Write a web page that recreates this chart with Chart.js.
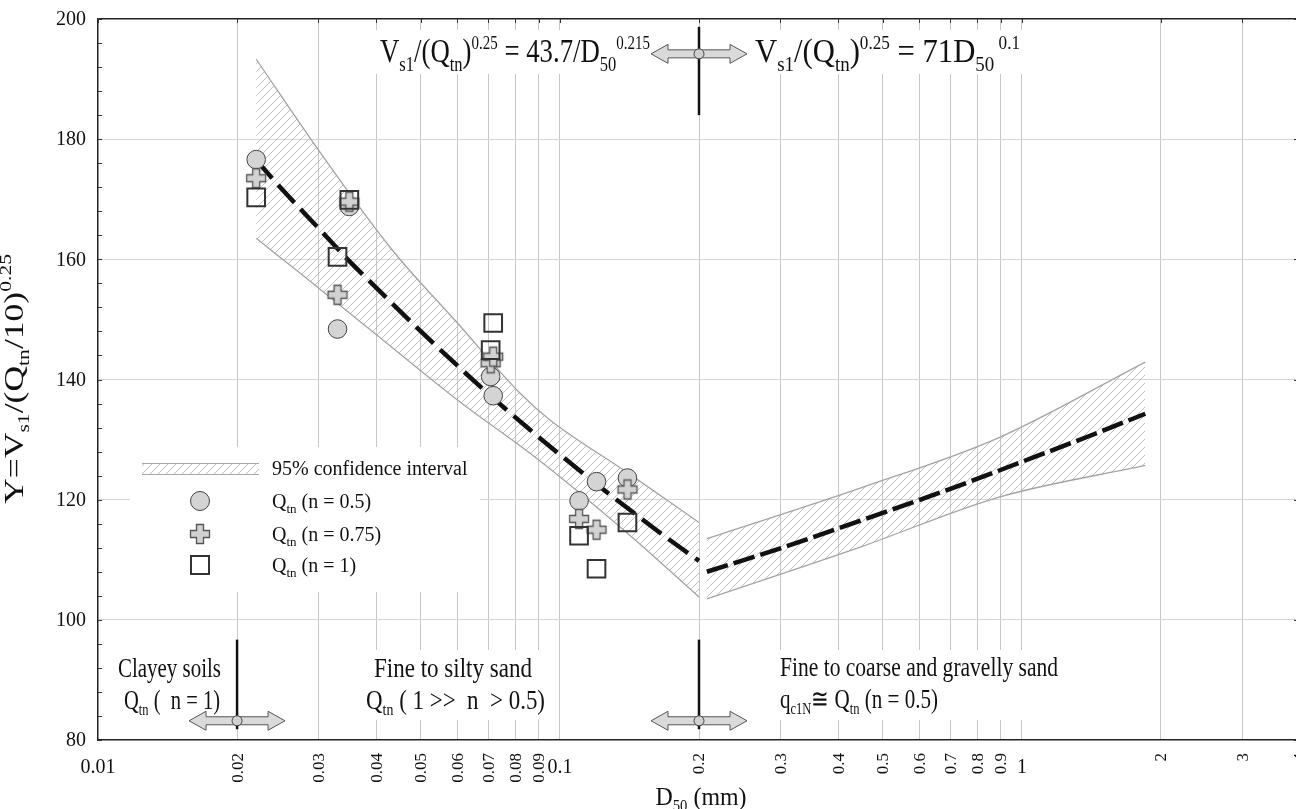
<!DOCTYPE html>
<html><head><meta charset="utf-8">
<script src="https://cdn.jsdelivr.net/npm/chart.js@4.4.0/dist/chart.umd.min.js"></script>
<style>html,body{margin:0;padding:0;background:#fff;overflow:hidden;} canvas{display:block;}</style>
</head><body>
<canvas id="c" width="1320" height="809" style="width:1320px;height:809px"></canvas>
<script>
// ---------------- data ----------------
const D50 = [0.022, 0.033, 0.035, 0.0708, 0.0717, 0.11, 0.12, 0.14];
const Y_n050 = [176.6, 148.4, 168.8, 140.5, 137.3, 119.8, 123.0, 123.6];
const Y_n075 = [173.5, 154.1, 169.6, 142.7, 143.8, 116.8, 115.0, 121.7];
const Y_n100 = [170.3, 160.4, 169.9, 144.9, 149.4, 114.0, 108.5, 116.2];

const fitLeftD = [0.022, 0.025, 0.03, 0.035, 0.04, 0.05, 0.06, 0.07, 0.085, 0.1, 0.12, 0.14, 0.17, 0.2];
const fitLeftY = [176.5, 171.7, 165.2, 159.7, 155.3, 148.0, 142.3, 137.6, 132.0, 127.5, 122.6, 118.6, 113.7, 109.8];
const fitRightD = [0.208, 0.3, 0.5, 0.7, 1.0, 1.4, 1.85];
const fitRightY = [108.0, 111.9, 117.8, 121.8, 126.3, 130.6, 134.3];

const ciLeftUpperD = [0.022, 0.03, 0.0433, 0.06, 0.082, 0.095, 0.14, 0.2];
const ciLeftUpperY = [193.3, 178.2, 161.6, 149.4, 137.7, 133.3, 124.5, 116.2];
const ciLeftLowerD = [0.022, 0.0274, 0.04, 0.06, 0.09, 0.14, 0.2];
const ciLeftLowerY = [163.5, 157.7, 147.5, 136.6, 126.6, 114.4, 103.8];
const ciRightUpperD = [0.208, 0.45, 0.89, 1.85];
const ciRightUpperY = [113.5, 122.0, 130.3, 142.9];
const ciRightLowerD = [0.208, 0.45, 0.89, 1.85];
const ciRightLowerY = [103.5, 112.2, 120.4, 125.7];

const xTickValues = [0.01,0.02,0.03,0.04,0.05,0.06,0.07,0.08,0.09,0.1,0.2,0.3,0.4,0.5,0.6,0.7,0.8,0.9,1,2,3,4];
const xTickLabels = ['0.01','0.02','0.03','0.04','0.05','0.06','0.07','0.08','0.09','0.1','0.2','0.3','0.4','0.5','0.6','0.7','0.8','0.9','1','2','3','4'];
const xTickHorizontal = ['0.01','0.1','1'];
const yTickValues = [80,100,120,140,160,180,200];
const yTickLabels = ['80','100','120','140','160','180','200'];
const yMinorStep = 4;

// ---------------- helpers ----------------
const SERIF = '"Liberation Serif", "Times New Roman", serif';
const pts = (xs, ys) => xs.map((x, i) => ({x, y: ys[i]}));
const AREA = {left: 98, top: 19, right: 1300, bottom: 740};

const canvas = document.getElementById('c');
const ctx0 = canvas.getContext('2d');

function makeHatch() {
  const s = 8;
  const t = document.createElement('canvas');
  t.width = s; t.height = s;
  const g = t.getContext('2d');
  g.strokeStyle = '#b9b9b9';
  g.lineWidth = 0.9;
  g.beginPath();
  g.moveTo(-1, s + 1); g.lineTo(s + 1, -1);
  g.moveTo(-1, 1); g.lineTo(1, -1);
  g.moveTo(s - 1, s + 1); g.lineTo(s + 1, s - 1);
  g.stroke();
  return ctx0.createPattern(t, 'repeat');
}
const hatch = makeHatch();

function crossPath(g, cx, cy, h, a) {
  g.beginPath();
  g.moveTo(cx - a, cy - h); g.lineTo(cx + a, cy - h); g.lineTo(cx + a, cy - a);
  g.lineTo(cx + h, cy - a); g.lineTo(cx + h, cy + a); g.lineTo(cx + a, cy + a);
  g.lineTo(cx + a, cy + h); g.lineTo(cx - a, cy + h); g.lineTo(cx - a, cy + a);
  g.lineTo(cx - h, cy + a); g.lineTo(cx - h, cy - a); g.lineTo(cx - a, cy - a);
  g.closePath();
}
function makeCross() {
  const s = 24;
  const c = document.createElement('canvas');
  c.width = s; c.height = s;
  const g = c.getContext('2d');
  crossPath(g, s / 2, s / 2, 9.5, 3.5);
  g.fillStyle = '#d2d2d2'; g.fill();
  g.lineWidth = 1.3; g.strokeStyle = '#555'; g.stroke();
  return c;
}
const crossImg = makeCross();

function fontFor(s, base) {
  let sz = base;
  if (s.k === 'sub') sz = s.sz || base * 0.62;
  if (s.k === 'sup') sz = s.sz || base * 0.58;
  return sz + 'px ' + SERIF;
}
function richWidth(ctx, segs, base) {
  let w = 0;
  for (const s of segs) { ctx.font = fontFor(s, base); w += ctx.measureText(s.t).width; }
  return w;
}
function drawRich(ctx, segs, x, y, base, opts) {
  opts = opts || {};
  const nat = richWidth(ctx, segs, base);
  const sx = opts.width ? opts.width / nat : 1;
  const total = opts.width || nat;
  let x0 = x;
  if (opts.align === 'center') x0 = x - total / 2;
  ctx.save();
  ctx.translate(x0, y);
  ctx.scale(sx, 1);
  ctx.textAlign = 'left';
  ctx.textBaseline = 'alphabetic';
  ctx.fillStyle = opts.color || '#111';
  let cx = 0;
  for (const s of segs) {
    ctx.font = fontFor(s, base);
    const dy = s.k === 'sub' ? (s.dy != null ? s.dy : base * 0.27) : s.k === 'sup' ? (s.dy != null ? s.dy : -base * 0.4) : 0;
    ctx.fillText(s.t, cx, dy);
    cx += ctx.measureText(s.t).width;
  }
  ctx.restore();
}
function dblArrow(ctx, cx, cy) {
  const L = 48, hl = 17, hh = 9.5, sh = 4;
  ctx.beginPath();
  ctx.moveTo(cx - L, cy);
  ctx.lineTo(cx - L + hl, cy - hh); ctx.lineTo(cx - L + hl, cy - sh);
  ctx.lineTo(cx + L - hl, cy - sh); ctx.lineTo(cx + L - hl, cy - hh);
  ctx.lineTo(cx + L, cy);
  ctx.lineTo(cx + L - hl, cy + hh); ctx.lineTo(cx + L - hl, cy + sh);
  ctx.lineTo(cx - L + hl, cy + sh); ctx.lineTo(cx - L + hl, cy + hh);
  ctx.closePath();
  ctx.fillStyle = '#dadada'; ctx.fill();
  ctx.lineWidth = 1; ctx.strokeStyle = '#555'; ctx.stroke();
}

// annotation texts
const eqLeft = [{t:'V'},{t:'s1',k:'sub',sz:21,dy:9},{t:'/(Q'},{t:'tn',k:'sub',sz:21,dy:9},{t:')'},{t:'0.25',k:'sup',sz:19,dy:-13},{t:' = 43.7/D'},{t:'50',k:'sub',sz:21,dy:9},{t:'0.215',k:'sup',sz:19,dy:-13}];
const eqRight = [{t:'V'},{t:'s1',k:'sub',sz:21,dy:9},{t:'/(Q'},{t:'tn',k:'sub',sz:21,dy:9},{t:')'},{t:'0.25',k:'sup',sz:19,dy:-13},{t:' = 71D'},{t:'50',k:'sub',sz:21,dy:9},{t:' 0.1',k:'sup',sz:19,dy:-13}];

const deco = {
  id: 'deco',
  beforeDatasetsDraw(chart) {
    const c = chart.ctx, a = chart.chartArea;
    const xs = chart.scales.x, ys = chart.scales.y;
    c.save();
    c.fillStyle = '#fff';
    c.fillRect(130, 447, 350, 145);
    c.fillRect(372, 30, 282, 44);
    c.fillRect(750, 30, 282, 44);
    c.fillRect(112, 650, 118, 68);
    c.fillRect(364, 650, 186, 70);
    c.fillRect(774, 650, 290, 70);
    c.strokeStyle = '#333'; c.lineWidth = 1;
    c.beginPath();
    for (let v = 80; v <= 200; v += yMinorStep) {
      const y = Math.round(ys.getPixelForValue(v)) + 0.5;
      c.moveTo(a.left, y); c.lineTo(a.left + 4, y);
    }
    for (const v of yTickValues) {
      const y = Math.round(ys.getPixelForValue(v)) + 0.5;
      c.moveTo(a.right - 6, y); c.lineTo(a.right, y);
    }
    for (const v of xTickValues) {
      const x = Math.round(xs.getPixelForValue(v)) + 0.5;
      c.moveTo(x, a.top); c.lineTo(x, a.top + 4);
    }
    c.stroke();
    c.restore();
  },
  afterDatasetsDraw(chart) {
    const c = chart.ctx;
    const xs = chart.scales.x, ys = chart.scales.y;
    c.save();
    const marks = [
      {x: 0.2, y0: 198.7, y1: 184.0, ya: 194.2},
      {x: 0.02, y0: 96.7, y1: 81.8, ya: 83.2},
      {x: 0.2, y0: 96.7, y1: 81.8, ya: 83.2}
    ];
    for (const m of marks) {
      const px = xs.getPixelForValue(m.x);
      const pa = ys.getPixelForValue(m.ya);
      dblArrow(c, px, pa);
      c.strokeStyle = '#111'; c.lineWidth = 2.5;
      c.beginPath();
      c.moveTo(px, ys.getPixelForValue(m.y0)); c.lineTo(px, ys.getPixelForValue(m.y1));
      c.stroke();
      c.beginPath(); c.arc(px, pa, 5, 0, Math.PI * 2);
      c.fillStyle = '#d0d0d0'; c.fill();
      c.lineWidth = 1; c.strokeStyle = '#444'; c.stroke();
    }
    c.restore();
  },
  afterDraw(chart) {
    const c = chart.ctx, a = chart.chartArea;
    const xs = chart.scales.x, ys = chart.scales.y;
    c.save();
    c.fillStyle = '#111';
    c.font = '20px ' + SERIF;
    c.textAlign = 'right'; c.textBaseline = 'middle';
    yTickValues.forEach((v, i) => c.fillText(yTickLabels[i], a.left - 12, ys.getPixelForValue(v) + 1));
    xTickValues.forEach((v, i) => {
      const lab = xTickLabels[i];
      const px = xs.getPixelForValue(v);
      if (xTickHorizontal.includes(lab)) {
        c.font = '20px ' + SERIF;
        c.textAlign = 'center'; c.textBaseline = 'middle';
        c.fillText(lab, px, a.bottom + 28);
      } else {
        c.save();
        c.font = '17px ' + SERIF;
        c.translate(px + 1, a.bottom + 13);
        c.rotate(-Math.PI / 2);
        c.textAlign = 'right'; c.textBaseline = 'middle';
        c.fillText(lab, 0, 0);
        c.restore();
      }
    });
    drawRich(c, [{t:'D'},{t:'50',k:'sub',sz:16,dy:6},{t:' (mm)'}], 701, 805, 26, {align:'center', width: 91});
    c.save();
    c.translate(23, 379);
    c.rotate(-Math.PI / 2);
    drawRich(c, [{t:'Y=V'},{t:'s1',k:'sub',sz:17,dy:6},{t:'/(Q'},{t:'tn',k:'sub',sz:17,dy:6},{t:'/10)'},{t:'0.25',k:'sup',sz:17,dy:-12}], 0, 0, 28, {align:'center', width: 250});
    c.restore();
    drawRich(c, eqLeft, 380, 62, 34, {width: 270});
    drawRich(c, eqRight, 755, 62, 34, {width: 265});
    drawRich(c, [{t:'Clayey soils'}], 118, 677, 28, {width: 103});
    drawRich(c, [{t:'Q'},{t:'tn',k:'sub',sz:17,dy:6},{t:' (  n = 1)'}], 124, 709, 28, {width: 96});
    drawRich(c, [{t:'Fine to silty sand'}], 374, 677, 28, {width: 158});
    drawRich(c, [{t:'Q'},{t:'tn',k:'sub',sz:17,dy:6},{t:' ( 1 >>  n  > 0.5)'}], 366, 709, 28, {width: 179});
    drawRich(c, [{t:'Fine to coarse and gravelly sand'}], 780, 676, 27, {width: 278});
    drawRich(c, [{t:'q'},{t:'c1N',k:'sub',sz:16,dy:6},{t:'\u2245 Q'},{t:'tn',k:'sub',sz:16,dy:6},{t:' (n = 0.5)'}], 780, 708, 27, {width: 158});
    c.fillStyle = hatch;
    c.fillRect(142, 463, 117, 12);
    c.strokeStyle = '#a8a8a8'; c.lineWidth = 1;
    c.beginPath(); c.moveTo(142, 463.5); c.lineTo(259, 463.5); c.moveTo(142, 474.5); c.lineTo(259, 474.5); c.stroke();
    c.beginPath(); c.arc(200, 501, 9.5, 0, Math.PI * 2);
    c.fillStyle = '#d4d4d4'; c.fill(); c.strokeStyle = '#444'; c.lineWidth = 1; c.stroke();
    c.drawImage(crossImg, 200 - crossImg.width / 2, 534 - crossImg.height / 2);
    c.strokeStyle = '#333'; c.lineWidth = 2;
    c.strokeRect(191, 556, 18, 18);
    drawRich(c, [{t:'95% confidence interval'}], 272, 475, 20);
    drawRich(c, [{t:'Q'},{t:'tn',k:'sub',sz:13,dy:5},{t:' (n = 0.5)'}], 272, 508, 20);
    drawRich(c, [{t:'Q'},{t:'tn',k:'sub',sz:13,dy:5},{t:' (n = 0.75)'}], 272, 541, 20);
    drawRich(c, [{t:'Q'},{t:'tn',k:'sub',sz:13,dy:5},{t:' (n = 1)'}], 272, 572, 20);
    c.restore();
  }
};

const lineBase = {showLine: true, pointRadius: 0, pointHoverRadius: 0, cubicInterpolationMode: 'monotone'};
const bandLine = Object.assign({}, lineBase, {borderColor: '#a4a4a4', borderWidth: 1.3, backgroundColor: hatch});

const chart = new Chart(canvas, {
  type: 'line',
  data: {
    datasets: [
      {label: 'Qtn (n = 1)', data: pts(D50, Y_n100), showLine: false, pointStyle: 'rect', pointRadius: 12.5, borderColor: '#333', borderWidth: 2, backgroundColor: 'rgba(0,0,0,0)'},
      {label: 'Qtn (n = 0.75)', data: pts(D50, Y_n075), showLine: false, pointStyle: crossImg, pointRadius: 10},
      {label: 'Qtn (n = 0.5)', data: pts(D50, Y_n050), showLine: false, pointStyle: 'circle', pointRadius: 9.3, borderColor: '#444', borderWidth: 1, backgroundColor: '#d4d4d4'},
      Object.assign({}, lineBase, {label: 'fit left', data: pts(fitLeftD, fitLeftY), borderColor: '#111', borderWidth: 4.5, borderDash: [24, 9], fill: false}),
      Object.assign({}, lineBase, {label: 'fit right', data: pts(fitRightD, fitRightY), borderColor: '#111', borderWidth: 4.5, borderDash: [22, 6], fill: false}),
      Object.assign({}, bandLine, {label: 'ci left upper', data: pts(ciLeftUpperD, ciLeftUpperY), fill: false}),
      Object.assign({}, bandLine, {label: 'ci left lower', data: pts(ciLeftLowerD, ciLeftLowerY), fill: '-1'}),
      Object.assign({}, bandLine, {label: 'ci right upper', data: pts(ciRightUpperD, ciRightUpperY), fill: false}),
      Object.assign({}, bandLine, {label: 'ci right lower', data: pts(ciRightLowerD, ciRightLowerY), fill: '-1'})
    ]
  },
  options: {
    responsive: false,
    animation: false,
    devicePixelRatio: 1,
    layout: {padding: {top: 19, right: 20, left: 0, bottom: 0}},
    plugins: {legend: {display: false}, tooltip: {enabled: false}},
    elements: {line: {tension: 0.4}},
    scales: {
      x: {
        type: 'logarithmic', min: 0.01, max: 4,
        afterBuildTicks: s => { s.ticks = xTickValues.map(v => ({value: v})); },
        afterFit: s => { s.height = 69; },
        ticks: {display: false},
        grid: {drawTicks: false, lineWidth: 1, color: c => (c.tick && c.tick.value === 0.01) ? 'rgba(0,0,0,0)' : '#c6c6c6'},
        border: {display: true, color: '#222', width: 1.5}
      },
      y: {
        type: 'linear', min: 80, max: 200,
        afterBuildTicks: s => { s.ticks = yTickValues.map(v => ({value: v})); },
        afterFit: s => { s.width = 98; },
        ticks: {display: false},
        grid: {drawTicks: false,
          lineWidth: c => (c.tick && c.tick.value === 200) ? 1.5 : 1,
          color: c => (c.tick && c.tick.value === 200) ? '#222' : (c.tick && c.tick.value === 80) ? 'rgba(0,0,0,0)' : '#d6d6d6'},
        border: {display: true, color: '#222', width: 1.5}
      }
    }
  },
  plugins: [deco]
});
const pad = chart.options.layout.padding;
const ca = chart.chartArea;
pad.right += ca.right - AREA.right;
pad.left += AREA.left - ca.left;
pad.top += AREA.top - ca.top;
pad.bottom += ca.bottom - AREA.bottom;
chart.update();
</script>
</body></html>
